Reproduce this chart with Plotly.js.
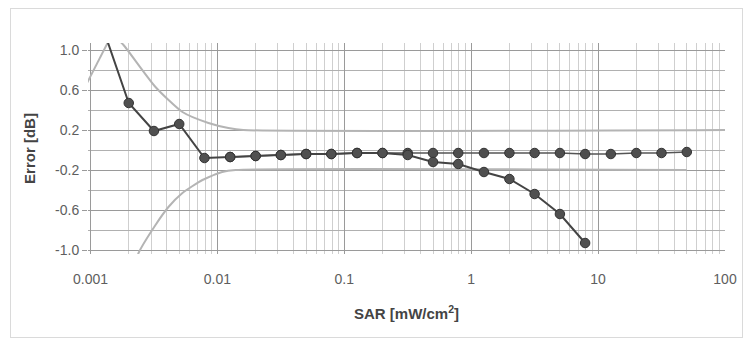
<!DOCTYPE html>
<html>
<head>
<meta charset="utf-8">
<script src="https://cdn.plot.ly/plotly-3.0.1.min.js"></script>
<style>
html,body{margin:0;padding:0;background:#fff;}
#chart{width:744px;height:344px;}
#frame{position:absolute;left:10px;top:8px;width:731px;height:328px;border:1px solid #dadada;pointer-events:none;}
</style>
</head>
<body>
<div id="chart"></div>
<div id="frame"></div>
<script>
// SAR values [mW/cm^2] and errors [dB]
const xDecline = [0.00126, 0.002, 0.00316, 0.005, 0.0079, 0.0126, 0.02, 0.0316, 0.05, 0.079, 0.126, 0.2, 0.316, 0.5, 0.79, 1.26, 2.0, 3.16, 5.0, 7.9];
const yDecline = [1.21, 0.47, 0.19, 0.26, -0.08, -0.07, -0.06, -0.05, -0.04, -0.04, -0.03, -0.03, -0.05, -0.12, -0.14, -0.22, -0.29, -0.44, -0.64, -0.93];

const xFlat = [0.0126, 0.02, 0.0316, 0.05, 0.079, 0.126, 0.2, 0.316, 0.5, 0.79, 1.26, 2.0, 3.16, 5.0, 7.9, 12.6, 20, 31.6, 50];
const yFlat = [-0.07, -0.06, -0.05, -0.04, -0.04, -0.03, -0.03, -0.03, -0.03, -0.03, -0.03, -0.03, -0.03, -0.03, -0.04, -0.04, -0.03, -0.03, -0.02];

const xUpper = [0.00093, 0.0014, null, 0.0016, 0.00182, 0.00325, 0.0053, 0.0085, 0.0122, 0.016, 100];
const yUpper = [0.66, 1.1, null, 1.12, 1.05, 0.63, 0.38, 0.27, 0.22, 0.2, 0.2];

const xLower = [0.0023, 0.00239, 0.00325, 0.00411, 0.0053, 0.00762, 0.0109, 0.0139, 50];
const yLower = [-1.1, -1.03, -0.75, -0.57, -0.43, -0.30, -0.22, -0.20, -0.20];

const xTickVals = [0.001, 0.01, 0.1, 1, 10, 100];
const xTickText = ['0.001', '0.01', '0.1', '1', '10', '100'];
const yTickVals = [-1.0, -0.6, -0.2, 0.2, 0.6, 1.0];
const yTickText = ['-1.0', '-0.6', '-0.2', '0.2', '0.6', '1.0'];

const limitLine = {color: '#b4b4b4', width: 2, shape: 'spline', smoothing: 0.6};
const traces = [
  {x: xUpper, y: yUpper, mode: 'lines', line: limitLine, connectgaps: false, hoverinfo: 'skip'},
  {x: xLower, y: yLower, mode: 'lines', line: limitLine, hoverinfo: 'skip'},
  {x: xFlat, y: yFlat, mode: 'lines+markers', line: {color: '#555', width: 1.5},
   marker: {size: 9.5, color: '#4e4e4e', line: {color: '#333', width: 1}}},
  {x: xDecline, y: yDecline, mode: 'lines+markers', line: {color: '#444', width: 2},
   marker: {size: 9.5, color: '#505050', line: {color: '#333', width: 1}}}
];

const fam = 'Liberation Sans, Arial, sans-serif';
const tickFont = {family: fam, size: 14, color: '#5e5e5e'};
const titleFont = {family: fam, size: 15, color: '#444'};
const layout = {
  width: 744, height: 344,
  margin: {l: 87.5, r: 19, t: 43, b: 90},
  paper_bgcolor: 'rgba(0,0,0,0)', plot_bgcolor: '#fff',
  showlegend: false,
  font: tickFont,
  xaxis: {
    type: 'log', range: [-3.02, 2.0],
    tickmode: 'array', tickvals: xTickVals, ticktext: xTickText,
    showgrid: true, gridcolor: '#9a9a9a', gridwidth: 1,
    minor: {dtick: 'D1', showgrid: true, gridcolor: '#cfcfcf', gridwidth: 1},
    zeroline: false, showline: false, ticks: '',
    ticklabelstandoff: 15,
    tickfont: tickFont,
    automargin: false,
    title: {text: '<b>SAR [mW/cm<sup>2</sup>]</b>', standoff: 22, font: titleFont}
  },
  yaxis: {
    range: [-1.04, 1.07],
    tickmode: 'array', tickvals: yTickVals, ticktext: yTickText,
    showgrid: true, gridcolor: '#9a9a9a', gridwidth: 1,
    minor: {dtick: 0.2, tick0: 0, showgrid: true, gridcolor: '#b0b0b0', gridwidth: 1},
    zeroline: false, showline: false, ticks: 'outside', ticklen: 5, tickcolor: '#9a9a9a',
    tickfont: tickFont,
    automargin: false,
    title: {text: '<b>Error [dB]</b>', standoff: 15, font: titleFont}
  }
};

Plotly.newPlot('chart', traces, layout, {staticPlot: true, displayModeBar: false});
</script>
</body>
</html>
